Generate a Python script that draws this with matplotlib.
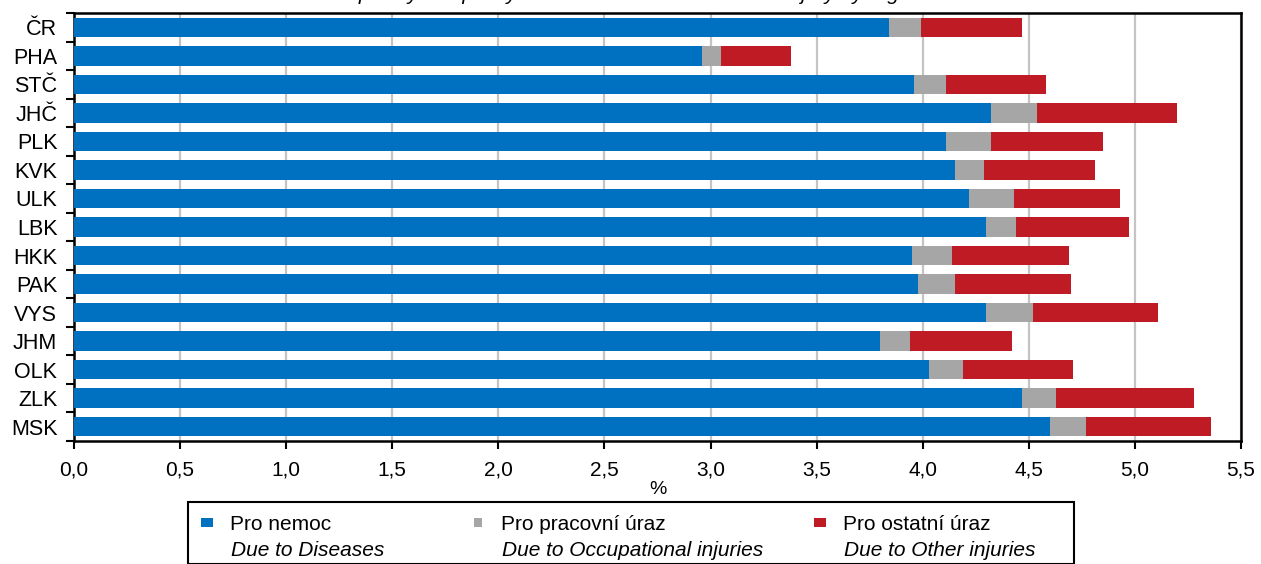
import matplotlib
matplotlib.use("Agg")
import matplotlib.pyplot as plt
from matplotlib.patches import Rectangle

plt.rcParams['font.family'] = ['Liberation Sans', 'DejaVu Sans']

regions = ["ČR", "PHA", "STČ", "JHČ", "PLK", "KVK", "ULK", "LBK",
           "HKK", "PAK", "VYS", "JHM", "OLK", "ZLK", "MSK"]
diseases = [3.84, 2.96, 3.96, 4.32, 4.11, 4.15, 4.22, 4.30,
            3.95, 3.98, 4.30, 3.80, 4.03, 4.47, 4.60]
occupational = [0.15, 0.09, 0.15, 0.22, 0.21, 0.14, 0.21, 0.14,
                0.19, 0.17, 0.22, 0.14, 0.16, 0.16, 0.17]
other = [0.48, 0.33, 0.47, 0.66, 0.53, 0.52, 0.50, 0.53,
         0.55, 0.55, 0.59, 0.48, 0.52, 0.65, 0.59]
xticks = [0.0, 0.5, 1.0, 1.5, 2.0, 2.5, 3.0, 3.5, 4.0, 4.5, 5.0, 5.5]
xtick_labels = ["0,0", "0,5", "1,0", "1,5", "2,0", "2,5", "3,0", "3,5",
                "4,0", "4,5", "5,0", "5,5"]

series_cz = ["Pro nemoc", "Pro pracovní úraz", "Pro ostatní úraz"]
series_en = ["Due to Diseases", "Due to Occupational injuries", "Due to Other injuries"]
colors = ["#0070C0", "#A6A6A6", "#BF1B24"]
title = "Temporary incapacity for work due to disease and injury by region in 2023"

W, H = 1261, 564
fig = plt.figure(figsize=(W / 100, H / 100), dpi=100)
ax = fig.add_axes([74 / W, 1 - 441 / H, (1241 - 74) / W, (441 - 13) / H])

y = list(range(len(regions)))
left2 = [a for a in diseases]
left3 = [a + b for a, b in zip(diseases, occupational)]
h = 0.68
ax.barh(y, diseases, height=h, color=colors[0], zorder=3)
ax.barh(y, occupational, left=left2, height=h, color=colors[1], zorder=3)
ax.barh(y, other, left=left3, height=h, color=colors[2], zorder=3)

ax.set_xlim(0, 5.5)
ax.set_ylim(len(regions) - 0.5, -0.5)
ax.set_xticks(xticks)
ax.set_xticklabels(xtick_labels, fontsize=15)
ax.set_yticks(y)
ax.set_yticklabels(regions, fontsize=15.5)
ax.set_yticks([i - 0.5 for i in range(len(regions) + 1)], minor=True)
ax.tick_params(axis='y', which='major', length=0, pad=12)
ax.tick_params(axis='y', which='minor', length=6, width=1.5, direction='out')
ax.tick_params(axis='x', which='major', length=6, width=1.5, direction='out', pad=8)
ax.grid(axis='x', color='#C4C4C4', linewidth=1.6, zorder=0)
for s in ax.spines.values():
    s.set_linewidth(1.8)
    s.set_color('black')
ax.set_xlabel("%", fontsize=14, labelpad=1)

# title (cut off at the top of the image, as in the reference)
fig.text(660 / W, 1.0, title, fontsize=15, style='italic',
         ha='center', va='baseline')

# legend box
lx0, lx1, ly0 = 188, 1074, 502
fig.patches.append(Rectangle((lx0 / W, 0), (lx1 - lx0) / W, 1 - ly0 / H,
                             transform=fig.transFigure, fill=False,
                             edgecolor='black', linewidth=1.5))
mx = [201, 474, 814]
mw = [12, 8, 12]
tx = [230, 501, 843]
for i in range(3):
    fig.patches.append(Rectangle((mx[i] / W, 1 - 527 / H), mw[i] / W, 9 / H,
                                 transform=fig.transFigure, facecolor=colors[i],
                                 edgecolor='none'))
    fig.text(tx[i] / W, 1 - 525 / H, series_cz[i], fontsize=15,
             ha='left', va='center')
    fig.text((tx[i] + 1) / W, 1 - 550 / H, series_en[i], fontsize=15,
             style='italic', ha='left', va='center')

fig.savefig("out.png", dpi=100)
